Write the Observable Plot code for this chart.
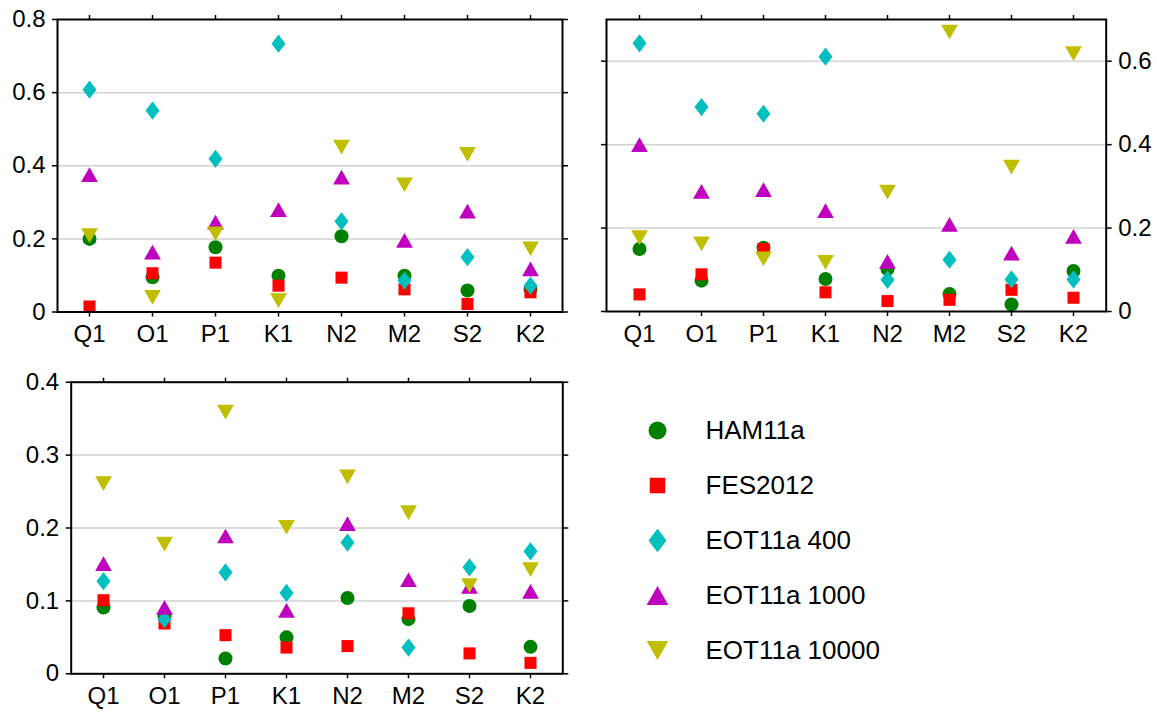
<!DOCTYPE html>
<html><head><meta charset="utf-8">
<script src="https://cdn.jsdelivr.net/npm/d3@7"></script>
<script src="https://cdn.jsdelivr.net/npm/@observablehq/plot@0.6"></script>
<style>
html,body{margin:0;padding:0;background:#fff;}
#chart{position:relative;width:1157px;height:713px;overflow:hidden;font-family:"Liberation Sans",Arial,sans-serif;}
#chart > div{position:absolute;}
svg{overflow:visible}
</style></head><body><div id="chart"></div>
<script>
// ---- data ----
const tides = ["Q1","O1","P1","K1","N2","M2","S2","K2"];
const seriesNames = ["HAM11a","FES2012","EOT11a 400","EOT11a 1000","EOT11a 10000"];
const seriesColors = ["#008000","#ff0000","#00bfbf","#bf00bf","#bfbf00"];

// top-left panel
const a_HAM11a   = [0.200,0.095,0.177,0.099,0.207,0.099,0.059,0.063];
const a_FES2012  = [0.015,0.106,0.135,0.072,0.094,0.062,0.022,0.054];
const a_EOT400   = [0.608,0.551,0.419,0.734,0.248,0.086,0.150,0.072];
const a_EOT1000  = [0.376,0.164,0.246,0.280,0.369,0.196,0.276,0.118];
const a_EOT10000 = [0.209,0.040,0.214,0.031,0.451,0.348,0.431,0.173];
const a_yTicks = [0,0.2,0.4,0.6,0.8];

// top-right panel
const b_HAM11a   = [0.150,0.074,0.153,0.078,0.102,0.042,0.017,0.097];
const b_FES2012  = [0.041,0.089,0.150,0.046,0.025,0.028,0.052,0.033];
const b_EOT400   = [0.643,0.490,0.474,0.611,0.076,0.124,0.077,0.077];
const b_EOT1000  = [0.400,0.288,0.292,0.242,0.120,0.209,0.140,0.180];
const b_EOT10000 = [0.177,0.162,0.126,0.118,0.286,0.670,0.346,0.618];
const b_yTicks = [0,0.2,0.4,0.6];

// bottom panel
const c_HAM11a   = [0.091,0.079,0.021,0.050,0.104,0.075,0.093,0.037];
const c_FES2012  = [0.101,0.069,0.053,0.036,0.038,0.083,0.028,0.015];
const c_EOT400   = [0.127,0.075,0.139,0.111,0.180,0.036,0.146,0.168];
const c_EOT1000  = [0.151,0.091,0.189,0.087,0.206,0.129,0.120,0.113];
const c_EOT10000 = [0.261,0.178,0.359,0.201,0.270,0.221,0.121,0.143];
const c_yTicks = [0,0.1,0.2,0.3,0.4];

// ---- symbols (matplotlib-like) ----
const rOf = size => Math.sqrt(size / Math.PI);
const symCircle = "circle";
const symSquare = {draw(c, size){const h = rOf(size)*0.86; c.rect(-h,-h,2*h,2*h);}};
const symDiamond = {draw(c, size){const r = rOf(size), w = r*1.0, h = r*1.3;
  c.moveTo(0,-h); c.lineTo(w,0); c.lineTo(0,h); c.lineTo(-w,0); c.closePath();}};
const symTriUp = {draw(c, size){const r = rOf(size), w = r*1.2, h = r*1.05;
  c.moveTo(0,-h); c.lineTo(w,h); c.lineTo(-w,h); c.closePath();}};
const symTriDown = {draw(c, size){const r = rOf(size), w = r*1.2, h = r*1.05;
  c.moveTo(0,h); c.lineTo(w,-h); c.lineTo(-w,-h); c.closePath();}};
const seriesSymbols = [symCircle, symSquare, symDiamond, symTriUp, symTriDown];

const FONT = "'Liberation Sans', Arial, Helvetica, sans-serif";
const TICK_FS = 24;
const fmt = d => d === 0 ? "0" : d.toFixed(1);

function panel({values, yDomain, yTicks, labelSide, box}) {
  const other = labelSide === "left" ? "right" : "left";
  const marks = [
    Plot.gridY(yTicks.filter(t => t > 0 && t < yDomain[1]), {stroke:"#d3d3d3", strokeOpacity:1, strokeWidth:1.5}),
  ];
  values.forEach((vals, s) => {
    marks.push(Plot.dot(tides, {x: d => d, y: (d,i) => vals[i], symbol: seriesSymbols[s], fill: seriesColors[s], stroke: "none", r: 7}));
  });
  marks.push(
    Plot.frame({stroke:"black", strokeWidth:2}),
    Plot.axisX({anchor:"bottom", tickSize:5, tickPadding:8, strokeWidth:1.5, label:null, fontSize:TICK_FS}),
    Plot.axisX({anchor:"top", tickSize:5, tickFormat:() => "", strokeWidth:1.5, label:null}),
    Plot.axisY(yTicks, {anchor:labelSide, tickSize:5, tickPadding:7, tickFormat:fmt, strokeWidth:1.5, label:null, fontSize:TICK_FS}),
    Plot.axisY(yTicks, {anchor:other, tickSize:5, tickFormat:() => "", strokeWidth:1.5, label:null})
  );
  const p = Plot.plot({
    width: box.w, height: box.h,
    marginLeft: box.ml, marginRight: box.mr, marginTop: box.mt, marginBottom: box.mb,
    style: {fontSize:TICK_FS + "px", fontFamily:FONT, color:"black", background:"transparent", overflow:"visible"},
    x: {type:"point", domain:tides, padding:0.5, label:null},
    y: {domain:yDomain, label:null},
    marks
  });
  const div = document.createElement("div");
  div.style.left = box.x + "px"; div.style.top = box.y + "px";
  div.appendChild(p);
  document.getElementById("chart").appendChild(div);
}

panel({values:[a_HAM11a,a_FES2012,a_EOT400,a_EOT1000,a_EOT10000], yDomain:[0,0.8], yTicks:a_yTicks, labelSide:"left",
  box:{x:0, y:0, w:580, h:350, ml:57, mr:18, mt:19, mb:38.5}});
panel({values:[b_HAM11a,b_FES2012,b_EOT400,b_EOT1000,b_EOT10000], yDomain:[0,0.7], yTicks:b_yTicks, labelSide:"right",
  box:{x:580, y:0, w:577, h:350, ml:26, mr:51.3, mt:19, mb:39}});
panel({values:[c_HAM11a,c_FES2012,c_EOT400,c_EOT1000,c_EOT10000], yDomain:[0,0.4], yTicks:c_yTicks, labelSide:"left",
  box:{x:0, y:360, w:580, h:353, ml:70.7, mr:17.7, mt:21.7, mb:39.7}});

// ---- legend ----
{
  const marks = [];
  seriesNames.forEach((n, s) => {
    marks.push(Plot.dot([n], {y: d => d, frameAnchor:"left", symbol: seriesSymbols[s], fill: seriesColors[s], stroke:"none", r: 9}));
  });
  marks.push(Plot.text(seriesNames, {y: d => d, frameAnchor:"left", dx:48, textAnchor:"start", fill:"black", fontSize:26}));
  const p = Plot.plot({
    width: 320, height: 280, marginLeft: 57, marginRight: 0, marginTop: 0, marginBottom: 0,
    style: {fontFamily:FONT, color:"black", background:"transparent", overflow:"visible"},
    y: {type:"point", domain:seriesNames, range:[29, 250], padding:0, axis:null},
    marks
  });
  const div = document.createElement("div");
  div.style.left = "600px"; div.style.top = "400px";
  div.appendChild(p);
  document.getElementById("chart").appendChild(div);
}
</script></body></html>
